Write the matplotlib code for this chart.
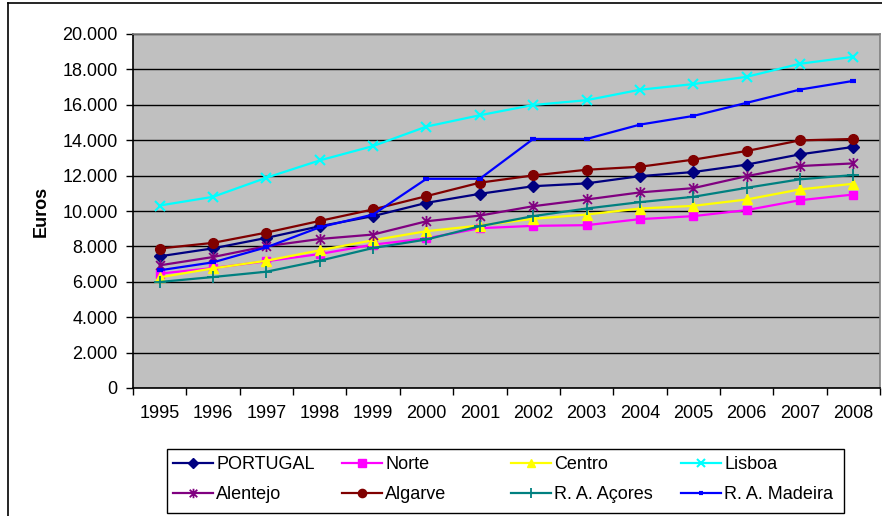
import numpy as np
import matplotlib
matplotlib.use("Agg")
import matplotlib.pyplot as plt
from matplotlib.path import Path
from matplotlib.lines import Line2D
from matplotlib.patches import Rectangle

plt.rcParams['font.family'] = ['Liberation Sans', 'DejaVu Sans']

years = [str(y) for y in range(1995, 2009)]

portugal = [7440, 7890, 8480, 9140, 9710, 10460, 10970, 11400, 11560, 11970, 12200, 12620, 13200, 13620]
norte = [6460, 6780, 7160, 7570, 8100, 8450, 9030, 9160, 9200, 9540, 9710, 10050, 10610, 10930]
centro = [6250, 6760, 7190, 7780, 8350, 8860, 9180, 9560, 9800, 10140, 10290, 10650, 11220, 11540]
lisboa = [10310, 10800, 11880, 12860, 13670, 14770, 15410, 15990, 16260, 16850, 17170, 17580, 18320, 18710]
alentejo = [6930, 7400, 8010, 8420, 8670, 9420, 9740, 10270, 10650, 11050, 11290, 11970, 12540, 12690]
algarve = [7880, 8200, 8780, 9440, 10090, 10840, 11600, 12010, 12330, 12500, 12900, 13390, 13990, 14070]
acores = [5990, 6270, 6570, 7190, 7910, 8390, 9140, 9710, 10140, 10500, 10800, 11310, 11790, 12030]
madeira = [6650, 7100, 7950, 9080, 9800, 11820, 11820, 14070, 14070, 14880, 15370, 16110, 16860, 17350]

# asterisk marker: vertical bar plus two diagonals
star = Path([(0, -1), (0, 1), (-0.8, -0.8), (0.8, 0.8), (-0.8, 0.8), (0.8, -0.8)],
            [Path.MOVETO, Path.LINETO] * 3)

series = [
    ("PORTUGAL", portugal, "#000080", dict(marker="D", ms=6.5)),
    ("Norte", norte, "#FF00FF", dict(marker="s", ms=6)),
    ("Centro", centro, "#FFFF00", dict(marker="^", ms=7.5)),
    ("Lisboa", lisboa, "#00FFFF", dict(marker="x", ms=7, mew=1.5)),
    ("Alentejo", alentejo, "#800080", dict(marker=star, ms=8, mew=1.3)),
    ("Algarve", algarve, "#800000", dict(marker="o", ms=7)),
    ("R. A. Açores", acores, "#008080", dict(marker="+", ms=9, mew=1.3)),
    ("R. A. Madeira", madeira, "#0000FF", dict(marker="_", ms=4, mew=3)),
]

W, H = 882, 516
fig = plt.figure(figsize=(W / 100, H / 100), dpi=100)
fig.patch.set_facecolor("white")

# plot area in pixels
x0, x1, y0, y1 = 133, 880, 34, 388
ax = fig.add_axes([x0 / W, (H - y1) / H, (x1 - x0) / W, (y1 - y0) / H])
ax.set_facecolor("#C0C0C0")

x = np.arange(len(years))
handles = []
for name, vals, col, mk in series:
    h, = ax.plot(x, vals, color=col, lw=1.6, mfc=col, mec=col, label=name, **mk)
    handles.append(h)

ax.set_xlim(-0.5, len(years) - 0.5)
ax.set_ylim(0, 20000)
ax.set_yticks(np.arange(0, 20001, 2000))
ax.set_yticklabels(["0"] + ["{:,}".format(v).replace(",", ".") for v in range(2000, 20001, 2000)])
ax.yaxis.grid(True, color="black", lw=1)
ax.set_axisbelow(True)

ax.set_xticks(np.arange(-0.5, len(years), 1))
ax.set_xticklabels([])
ax.set_xticks(x, minor=True)
ax.set_xticklabels(years, minor=True)
ax.tick_params(axis="x", which="major", direction="out", length=5, width=1, color="black")
ax.tick_params(axis="x", which="minor", length=0, pad=12, labelsize=13)
ax.tick_params(axis="y", direction="out", length=5, width=1, pad=6, labelsize=13)

for s in ["top", "right"]:
    ax.spines[s].set_color("#808080")
    ax.spines[s].set_linewidth(1.2)
for s in ["left", "bottom"]:
    ax.spines[s].set_color("black")
    ax.spines[s].set_linewidth(1.2)

ax.set_ylabel("Euros", fontsize=13, fontweight="bold", labelpad=9)

# legend: four equal columns of two entries each, one shared frame
lx0, lx1, ly0, ly1 = 167, 844, 449, 513
fig.add_artist(Rectangle((lx0 / W, (H - ly1) / H), (lx1 - lx0) / W, (ly1 - ly0) / H,
                         transform=fig.transFigure, fill=False, ec="black", lw=1))
col_x = [173, 342, 511, 681]
for c in range(4):
    idx = [c, c + 4]
    fig.legend([handles[i] for i in idx], [series[i][0] for i in idx],
               loc="upper left", bbox_to_anchor=(col_x[c] / W, (H - 456) / H),
               fontsize=13, frameon=False, handlelength=2.2, handletextpad=0.2,
               borderaxespad=0, borderpad=0, labelspacing=0.72, markerscale=0.85)

# chart border
fig.add_artist(Line2D([8 / W, 8 / W], [0, (H - 3) / H], color="black", lw=1.2))
fig.add_artist(Line2D([8 / W, 1], [(H - 3) / H, (H - 3) / H], color="black", lw=1.2))

fig.savefig("out.png", dpi=100)
